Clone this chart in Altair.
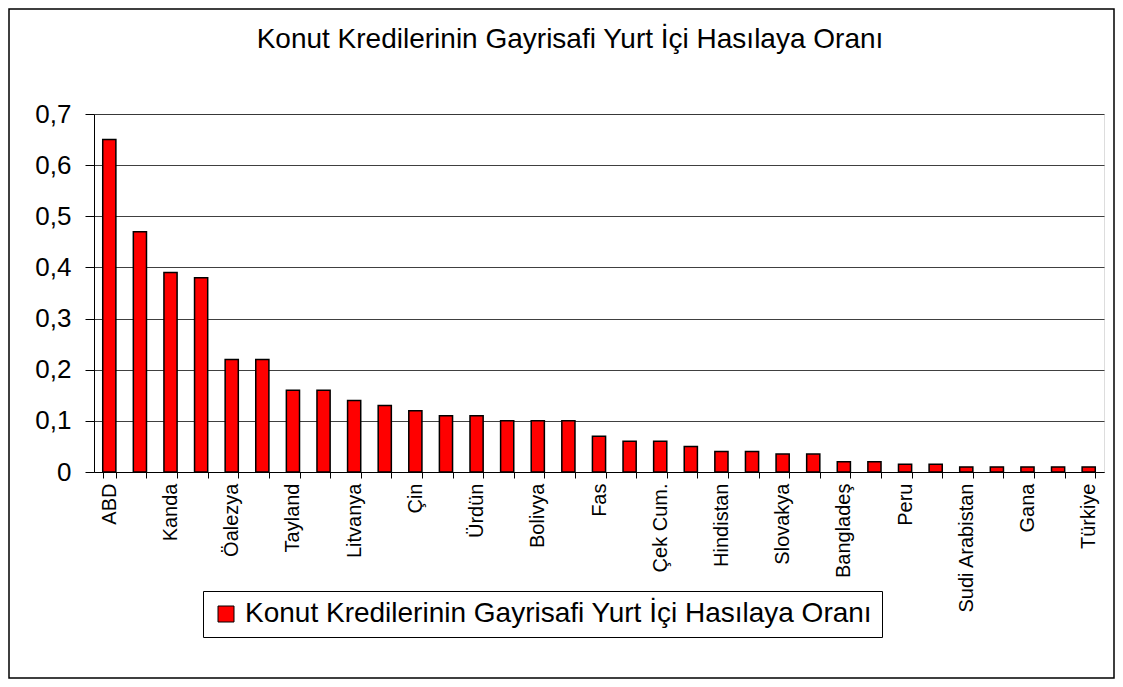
import json
import altair as alt
import pandas as pd

title_text = "Konut Kredilerinin Gayrisafi Yurt İçi Hasılaya Oranı"
series_name = "Konut Kredilerinin Gayrisafi Yurt İçi Hasılaya Oranı"

labels = [
    "ABD", "", "Kanda", "", "Öalezya", "", "Tayland", "", "Litvanya", "",
    "Çin", "", "Ürdün", "", "Bolivya", "", "Fas", "", "Çek Cum.", "",
    "Hindistan", "", "Slovakya", "", "Bangladeş", "", "Peru", "",
    "Sudi Arabistan", "", "Gana", "", "Türkiye",
]
values = [
    0.65, 0.47, 0.39, 0.38, 0.22, 0.22, 0.16, 0.16, 0.14, 0.13,
    0.12, 0.11, 0.11, 0.10, 0.10, 0.10, 0.07, 0.06, 0.06, 0.05,
    0.04, 0.04, 0.035, 0.035, 0.02, 0.02, 0.015, 0.015,
    0.01, 0.01, 0.01, 0.01, 0.01,
]
y_ticks = [0, 0.1, 0.2, 0.3, 0.4, 0.5, 0.6, 0.7]

df = pd.DataFrame({
    "idx": list(range(len(values))),
    "label": labels,
    "value": values,
    "series": [series_name] * len(values),
})

FONT = "Liberation Sans"
W, H = 1010, 358
PL, PT, PR, PB = 86, 106, 11, 207

label_expr = json.dumps(labels, ensure_ascii=False) + "[datum.value]"

bars = alt.Chart(df).mark_bar(stroke="black", strokeWidth=1.5).encode(
    x=alt.X(
        "idx:O",
        title=None,
        scale=alt.Scale(paddingInner=0.57, paddingOuter=0.285),
        axis=alt.Axis(
            labelExpr=label_expr,
            labelAngle=-90,
            labelFontSize=20,
            labelFont=FONT,
            labelColor="black",
            labelPadding=5,
            tickBand="extent",
            tickSize=6,
            tickColor="black",
            domainColor="black",
            grid=False,
            labelOverlap=False,
        ),
    ),
    y=alt.Y(
        "value:Q",
        title=None,
        scale=alt.Scale(domain=[0, 0.7], nice=False),
        axis=alt.Axis(
            values=y_ticks,
            labelExpr="datum.value == 0 ? '0' : replace(format(datum.value, '.1f'), '.', ',')",
            labelFontSize=26,
            labelFont=FONT,
            labelColor="black",
            labelPadding=14,
            tickSize=9,
            tickColor="black",
            domainColor="black",
            grid=True,
            gridColor="#000000",
            gridWidth=1,
            gridOpacity=0.75,
        ),
    ),
    color=alt.Color(
        "series:N",
        scale=alt.Scale(range=["#FF0000"]),
        legend=alt.Legend(
            title=None,
            orient="none",
            legendX=109,
            legendY=477,
            direction="horizontal",
            labelFontSize=28,
            labelFont=FONT,
            labelColor="black",
            labelLimit=1000,
            labelOffset=5,
            symbolType="square",
            symbolSize=256,
            symbolStrokeColor="black",
            symbolStrokeWidth=1,
            symbolOpacity=1,
            padding=9,
            strokeColor="black",
            fillColor="white",
        ),
    ),
)

border = alt.Chart(pd.DataFrame({"a": [0]})).mark_rect(
    fill=None, stroke="black", strokeWidth=1.5
).encode(
    x=alt.value(-PL + 1),
    x2=alt.value(W + PR - 1),
    y=alt.value(-PT + 1),
    y2=alt.value(H + PB - 1),
)

chart = alt.layer(bars, border).properties(
    width=W,
    height=H,
    autosize=alt.AutoSizeParams(type="none"),
    padding={"left": PL, "top": PT, "right": PR, "bottom": PB},
    title=alt.Title(
        title_text,
        font=FONT,
        fontSize=28,
        fontWeight="normal",
        color="black",
        anchor="middle",
        frame="group",
        dx=-29,
        offset=-46,
    ),
).configure_view(
    fill="#C0C0C0", stroke="#808080", strokeWidth=1
).configure(background="white")

chart.save("out.html", embed_options={"renderer": "svg", "actions": False})
